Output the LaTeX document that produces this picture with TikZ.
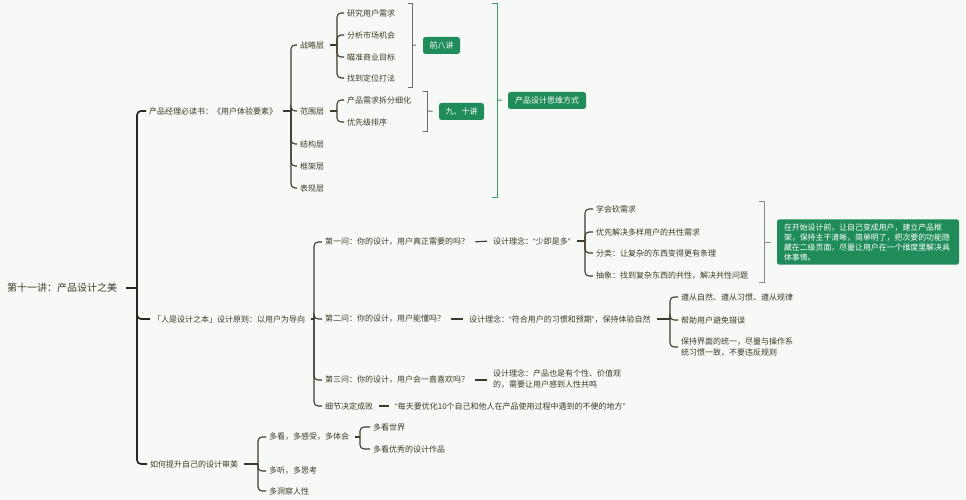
\documentclass[tikz,border=0pt]{standalone}
\usepackage{fontspec}
\setmainfont{Noto Sans CJK SC}
\newfontfamily\quotefont{Liberation Sans}
\newcommand\qopen{{\quotefont “}}
\newcommand\qclose{{\quotefont ”}}
\definecolor{paper}{HTML}{F7F9F6}
\definecolor{ink}{HTML}{3F3B2B}
\definecolor{wire}{HTML}{3F392E}
\definecolor{trunkc}{HTML}{2B261E}
\definecolor{leaf}{HTML}{1F8C59}
\definecolor{leafline}{HTML}{3D9A68}
\definecolor{rim}{HTML}{6E6E68}
\begin{document}
\begin{tikzpicture}[x=1pt,y=-1pt,
  topic/.style={anchor=west, inner xsep=3pt, inner ysep=1pt, text=ink, align=left, font=\fontsize{8}{10.5}\selectfont},
  title/.style={topic, inner xsep=6pt, font=\fontsize{10}{12}\selectfont},
  tag/.style={fill=leaf, text=white, rounded corners=2.5pt, inner sep=0pt, minimum height=17pt, font=\fontsize{8}{10}\selectfont},
  bough/.style={draw=trunkc, line width=1.7pt, rounded corners=4pt},
  twig/.style={draw=wire, line width=1.1pt, rounded corners=4pt},
  rib/.style={draw=rim, line width=0.9pt}]

\fill[paper] (0,0) rectangle (966,500);
\useasboundingbox (0,0) rectangle (966,500);

% where the vertical trunks stand
\coordinate (t0) at (137,0);
\coordinate (tA) at (291,0);
\coordinate (tZ) at (337,0);
\coordinate (tB) at (314,0);
\coordinate (tQ) at (585,0);
\coordinate (tR) at (670,0);
\coordinate (tC) at (258,0);
\coordinate (tM) at (360,0);

\node[title] (root) at (1,288) {第十一讲：产品设计之美};

% first branch: the book
\node[topic] (read) at (146,111) {产品经理必读书：《用户体验要素》};
\node[topic] (zl) at (297,45) {战略层};
\node[topic] (fw) at (297,111) {范围层};
\node[topic] (jg) at (297,144) {结构层};
\node[topic] (kj) at (297,166) {框架层};
\node[topic] (bx) at (297,188) {表现层};
\node[topic] (zl1) at (344,13) {研究用户需求};
\node[topic] (zl2) at (344,35) {分析市场机会};
\node[topic] (zl3) at (344,57) {瞄准商业目标};
\node[topic] (zl4) at (344,78) {找到定位打法};
\node[topic] (fw1) at (344,100) {产品需求拆分细化};
\node[topic] (fw2) at (344,122) {优先级排序};

\node[tag, minimum width=37pt] (g1) at (441.5,45.5) {前八讲};
\node[tag, minimum width=45pt] (g2) at (461.5,111.5) {九、十讲};
\node[tag, minimum width=78pt] (g3) at (547,100.5) {产品设计思维方式};

% second branch: the principle
\node[topic] (rule) at (150,319) {「人是设计之本」设计原则：以用户为导向};
\node[topic] (q1) at (322,242) {第一问：你的设计，用户真正需要的吗？};
\node[topic] (q2) at (322,319) {第二问：你的设计，用户能懂吗？};
\node[topic] (q3) at (322,380) {第三问：你的设计，用户会一直喜欢吗？};
\node[topic] (q4) at (322,406) {细节决定成败};
\node[topic] (i1) at (490,241) {设计理念：\qopen 少即是多\qclose};
\node[topic] (i2) at (466,319) {设计理念：\qopen 符合用户的习惯和预期\qclose ，保持体验自然};
\node[topic] (i3) at (490,379) {设计理念：产品也是有个性、价值观\\的，需要让用户感到人性共鸣};
\node[topic] (i4) at (392,406) {\qopen 每天要优化10个自己和他人在产品使用过程中遇到的不便的地方\qclose};
\node[topic] (j1) at (593,209) {学会砍需求};
\node[topic] (j2) at (593,232) {优先解决多样用户的共性需求};
\node[topic] (j3) at (593,253) {分类：让复杂的东西变得更有条理};
\node[topic] (j4) at (593,276) {抽象：找到复杂东西的共性，解决共性问题};
\node[topic] (k1) at (678,297) {遵从自然、遵从习惯、遵从规律};
\node[topic] (k2) at (678,320) {帮助用户避免错误};
\node[topic] (k3) at (678,347) {保持界面的统一，尽量与操作系\\统习惯一致，不要违反规则};
\node[tag, text width=168pt, inner xsep=7pt, inner ysep=4pt, align=left,
  font=\fontsize{7.9}{10}\selectfont] (g4) at (868,242)
  {在开始设计前，让自己变成用户，建立产品框\\架，保持主干清晰，简单明了，把次要的功能隐\\藏在二级页面，尽量让用户在一个维度里解决具\\体事情。};

% third branch
\node[topic] (taste) at (147,464) {如何提升自己的设计审美};
\node[topic] (m1) at (266,437) {多看，多感受，多体会};
\node[topic] (m2) at (266,471) {多听，多思考};
\node[topic] (m3) at (266,491) {多洞察人性};
\node[topic] (n1) at (370,427) {多看世界};
\node[topic] (n2) at (370,449) {多看优秀的设计作品};

% trunk lines
\draw[bough, shorten <=3pt] (root.east) -- (root.east -| t0);
\foreach \n in {read,rule,taste} \draw[bough] (root.east -| t0) |- (\n.west);

\draw[twig, shorten <=3pt] (read.east) -- (read.east -| tA);
\foreach \n in {zl,fw,jg,kj,bx} \draw[twig] (read.east -| tA) |- (\n.west);
\draw[twig, shorten <=3pt] (zl.east) -- (zl.east -| tZ);
\foreach \n in {zl1,zl2,zl3,zl4} \draw[twig] (zl.east -| tZ) |- (\n.west);
\draw[twig, shorten <=3pt] (fw.east) -- (fw.east -| tZ);
\foreach \n in {fw1,fw2} \draw[twig] (fw.east -| tZ) |- (\n.west);

\draw[twig, shorten <=3pt] (rule.east) -- (rule.east -| tB);
\foreach \n in {q1,q2,q3,q4} \draw[twig] (rule.east -| tB) |- (\n.west);
\draw[twig, shorten <=3pt, shorten >=3pt] (q1.east) -- (i1.west);
\draw[twig, shorten <=3pt, shorten >=3pt] (q2.east) -- (i2.west);
\draw[twig, shorten <=3pt, shorten >=3pt] (q3.east) -- (q3.east -| i3.west);
\draw[twig, shorten <=3pt, shorten >=3pt] (q4.east) -- (i4.west);
\draw[twig, shorten <=3pt] (i1.east) -- (i1.east -| tQ);
\foreach \n in {j1,j2,j3,j4} \draw[twig] (i1.east -| tQ) |- (\n.west);
\draw[twig, shorten <=3pt] (i2.east) -- (i2.east -| tR);
\foreach \n in {k1,k2,k3} \draw[twig] (i2.east -| tR) |- (\n.west);

\draw[twig, shorten <=3pt] (taste.east) -- (taste.east -| tC);
\foreach \n in {m1,m2,m3} \draw[twig] (taste.east -| tC) |- (\n.west);
\draw[twig, shorten <=3pt] (m1.east) -- (m1.east -| tM);
\foreach \n in {n1,n2} \draw[twig] (m1.east -| tM) |- (\n.west);

% summary brackets
\coordinate (r1) at (412,45);
\coordinate (r2) at (427,111);
\coordinate (r3) at (497,100);
\coordinate (r4) at (764,242);
\draw[rib] (408,3) -- (412,3) -- (412,87) -- (408,87);
\draw[rib, shorten >=7pt] (r1) -- (g1.west);
\draw[rib] (423,91) -- (427,91) -- (427,131) -- (423,131);
\draw[rib, shorten >=6pt] (r2) -- (g2.west);
\draw[rib, draw=leafline] (492,3) -- (497,3) -- (497,197) -- (492,197);
\draw[rib, draw=leafline, shorten >=6pt] (r3) -- (g3.west);
\draw[rib, draw=rim!80] (759,201) -- (764,201) -- (764,282) -- (759,282);
\draw[rib, draw=rim!80, shorten >=6pt] (r4) -- (g4.west);
\end{tikzpicture}
\end{document}
